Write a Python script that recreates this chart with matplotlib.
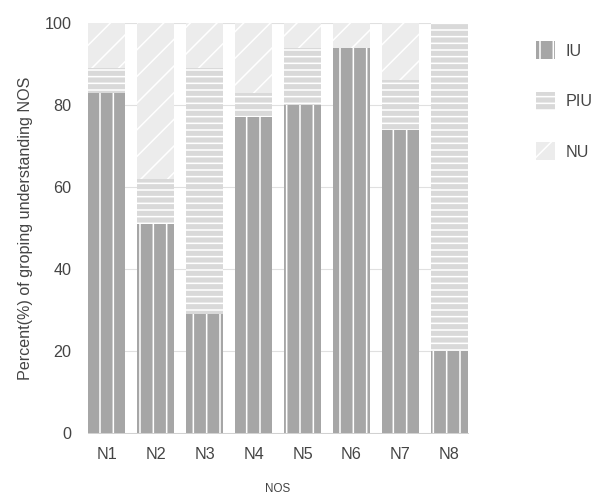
import numpy as np
import matplotlib
matplotlib.use("Agg")
import matplotlib.pyplot as plt
from matplotlib.patches import Patch

# data
categories = ["N1", "N2", "N3", "N4", "N5", "N6", "N7", "N8"]
iu = [83, 51, 29, 77, 80, 94, 74, 20]
piu = [6, 11, 60, 6, 14, 0, 12, 80]
nu = [11, 38, 11, 17, 6, 6, 14, 0]
series_names = ["IU", "PIU", "NU"]

DPI = 80  # lower dpi -> wider hatch spacing, closer to the reference
W, H = 592, 497

plt.rcParams["font.family"] = ["Liberation Sans", "DejaVu Sans"]
plt.rcParams["hatch.color"] = "white"
plt.rcParams["hatch.linewidth"] = 1.4

fig = plt.figure(figsize=(W / DPI, H / DPI), dpi=DPI)
ax = fig.add_axes([88 / W, 1 - 433 / H, 380 / W, 410 / H])

x = np.arange(len(categories))
iu_a = np.array(iu)
piu_a = np.array(piu)
nu_a = np.array(nu)
w = 0.76

colors = ["#a6a6a6", "#d9d9d9", "#ececec"]
hatches = ["|", "--", "/"]

ax.bar(x, iu_a, width=w, color=colors[0], hatch=hatches[0], linewidth=0, zorder=2)
ax.bar(x, piu_a, width=w, bottom=iu_a, color=colors[1], hatch=hatches[1], linewidth=0, zorder=2)
ax.bar(x, nu_a, width=w, bottom=iu_a + piu_a, color=colors[2], hatch=hatches[2], linewidth=0, zorder=2)

ax.set_xlim(-0.5 + (1 - w) / 2 - 0.001, len(categories) - 0.5 - (1 - w) / 2 + 0.001)
ax.set_ylim(0, 100)
ax.set_yticks([0, 20, 40, 60, 80, 100])
ax.set_xticks(x)
ax.set_xticklabels(categories)
ax.yaxis.grid(True, color="#e0e0e0", linewidth=1, zorder=0)
ax.set_axisbelow(True)
for s in ["top", "right", "left"]:
    ax.spines[s].set_visible(False)
ax.spines["bottom"].set_color("#cccccc")
ax.spines["bottom"].set_zorder(3)
ax.tick_params(length=0, labelsize=14.5, colors="#444444")
ax.tick_params(axis="x", pad=13)
ax.tick_params(axis="y", pad=15)

ax.set_xlabel("NOS", fontsize=10.5, color="#444444", va="center")
ax.xaxis.set_label_coords(0.5, -(489 - 433) / 410)
ax.set_ylabel("Percent(%) of groping understanding NOS", fontsize=14.5, color="#444444", labelpad=10)

handles = [Patch(facecolor=colors[i], hatch=hatches[i], linewidth=0) for i in range(3)]
leg = fig.legend(handles, series_names, loc="upper left", bbox_to_anchor=(536 / W, 1 - 41 / H),
                 frameon=False, fontsize=14.5, handlelength=1.18, handleheight=1.37,
                 labelspacing=2.0, handletextpad=0.68, borderpad=0, borderaxespad=0,
                 labelcolor="#444444")

fig.savefig("out.png", dpi=DPI)
